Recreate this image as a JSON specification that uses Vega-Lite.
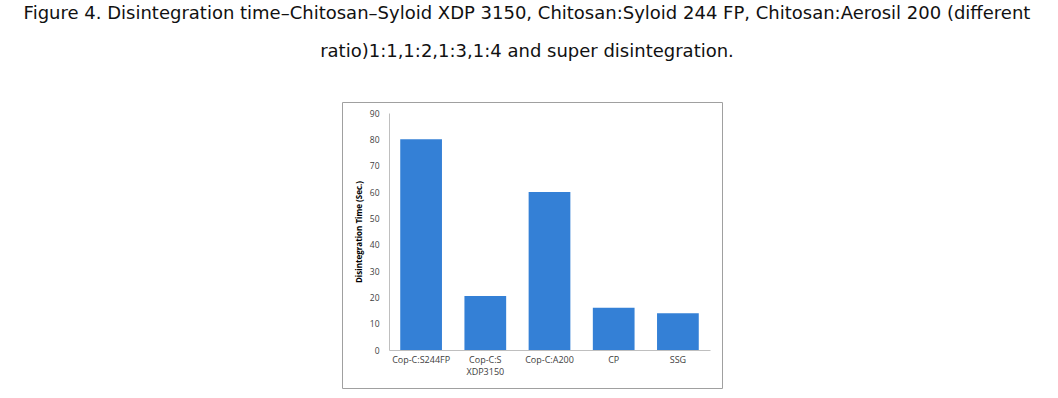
{
  "$schema": "https://vega.github.io/schema/vega-lite/v6.json",
  "autosize": "none",
  "width": 380,
  "height": 286,
  "padding": {"left": 342, "top": 102, "right": 336, "bottom": 10},
  "background": "white",
  "title": {
    "text": ["Figure 4. Disintegration time–Chitosan–Syloid XDP 3150, Chitosan:Syloid 244 FP, Chitosan:Aerosil 200 (different", "ratio)1:1,1:2,1:3,1:4 and super disintegration."],
    "font": "DejaVu Sans",
    "fontSize": 18,
    "fontWeight": "normal",
    "color": "#111111",
    "anchor": "middle",
    "frame": "group",
    "dx": -5,
    "lineHeight": 38,
    "offset": 41
  },
  "data": {
    "values": [
      {"formulation": "Cop-C:S244FP", "time": 80},
      {"formulation": "Cop-C:S XDP3150", "time": 20.5},
      {"formulation": "Cop-C:A200", "time": 60},
      {"formulation": "CP", "time": 16},
      {"formulation": "SSG", "time": 14}
    ]
  },
  "mark": {"type": "bar", "color": "#3480D6"},
  "encoding": {
    "x": {
      "field": "formulation",
      "type": "nominal",
      "sort": null,
      "scale": {"range": [47, 368], "paddingInner": 0.35, "paddingOuter": 0.175},
      "axis": {
        "title": null,
        "offset": -38,
        "labelAngle": 0,
        "labelExpr": "split(datum.label, ' ')",
        "labelFont": "Open Sans",
        "labelFontSize": 9,
        "labelColor": "#404040",
        "labelLineHeight": 12,
        "labelPadding": 5,
        "ticks": false,
        "domainColor": "#bfbfbf",
        "domainWidth": 1,
        "grid": false
      }
    },
    "y": {
      "field": "time",
      "type": "quantitative",
      "scale": {"domain": [0, 90], "range": [248, 11], "nice": false, "zero": true},
      "axis": {
        "title": "Disintegration Time (Sec.)",
        "titleFont": "Open Sans",
        "titleFontSize": 8,
        "titleFontWeight": "bold",
        "titleColor": "#000000",
        "titlePadding": 6,
        "offset": -47,
        "values": [0, 10, 20, 30, 40, 50, 60, 70, 80, 90],
        "labelFont": "Open Sans",
        "labelFontSize": 8.5,
        "labelColor": "#404040",
        "labelPadding": 10,
        "ticks": false,
        "grid": false,
        "domainColor": "#bfbfbf",
        "domainWidth": 1
      }
    },
    "y2": {"datum": 0}
  },
  "config": {
    "view": {"stroke": "#a0a0a0", "strokeWidth": 1}
  }
}
